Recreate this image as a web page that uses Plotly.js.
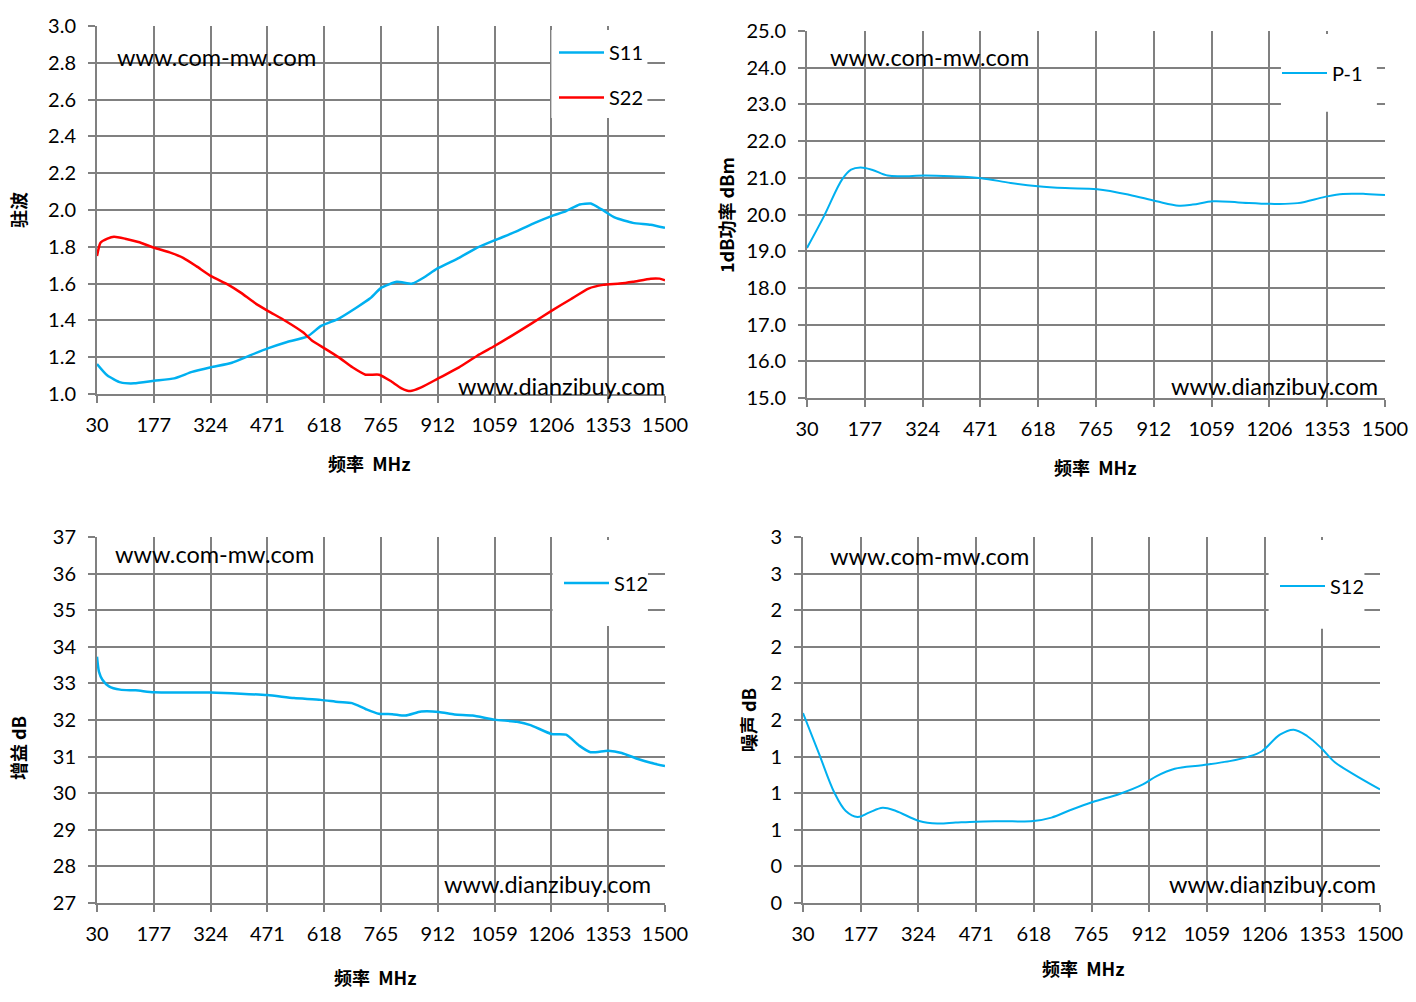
<!DOCTYPE html>
<html>
<head>
<meta charset="utf-8">
<script src="https://cdn.plot.ly/plotly-3.0.1.min.js"></script>
<style>
  html, body { margin: 0; padding: 0; background: #fff; }
  #chart { width: 1416px; height: 1002px; }
</style>
</head>
<body>
<div id="chart"></div>
<script>
// frequency ticks (MHz)
var freqTicks = [30, 177, 324, 471, 618, 765, 912, 1059, 1206, 1353, 1500];

// VSWR, top left
var s11Freq = [30, 57, 91, 126, 178, 230, 276, 325, 379, 426, 472, 518, 575, 610, 656, 702, 737, 766, 806, 846, 875, 910, 967, 1014, 1060, 1117, 1163, 1206, 1244, 1279, 1308, 1336, 1371, 1417, 1463, 1500];
var s11Vswr = [1.163, 1.10, 1.063, 1.058, 1.072, 1.085, 1.12, 1.145, 1.17, 1.21, 1.248, 1.28, 1.313, 1.37, 1.41, 1.47, 1.52, 1.578, 1.61, 1.60, 1.632, 1.681, 1.74, 1.795, 1.836, 1.885, 1.93, 1.967, 1.994, 2.03, 2.035, 2.003, 1.958, 1.93, 1.92, 1.903];
var s22Freq = [30, 39, 57, 74, 103, 137, 178, 218, 253, 287, 325, 368, 402, 437, 472, 518, 564, 587, 622, 656, 691, 725, 760, 789, 818, 841, 869, 910, 967, 1014, 1060, 1106, 1152, 1206, 1256, 1302, 1340, 1383, 1417, 1463, 1486, 1500];
var s22Vswr = [1.75, 1.822, 1.844, 1.855, 1.844, 1.826, 1.795, 1.77, 1.74, 1.695, 1.641, 1.596, 1.551, 1.497, 1.452, 1.397, 1.334, 1.289, 1.244, 1.199, 1.145, 1.105, 1.105, 1.072, 1.031, 1.016, 1.036, 1.081, 1.145, 1.208, 1.262, 1.32, 1.38, 1.452, 1.515, 1.573, 1.593, 1.60, 1.61, 1.627, 1.627, 1.618];

// P-1dB, top right
var p1Freq = [30, 73, 119, 142, 166, 195, 235, 270, 328, 397, 473, 548, 617, 687, 768, 849, 919, 976, 1011, 1063, 1127, 1208, 1278, 1347, 1393, 1451, 1500];
var p1Dbm = [19.09, 19.95, 20.95, 21.22, 21.28, 21.22, 21.06, 21.04, 21.06, 21.04, 20.99, 20.86, 20.77, 20.72, 20.69, 20.54, 20.36, 20.24, 20.27, 20.36, 20.33, 20.29, 20.31, 20.48, 20.56, 20.56, 20.53];

// gain, bottom left
var gainFreq = [30, 35, 44, 61, 90, 130, 177, 240, 324, 402, 471, 540, 609, 655, 690, 725, 759, 794, 828, 869, 915, 955, 1002, 1059, 1117, 1152, 1206, 1244, 1278, 1307, 1353, 1388, 1428, 1463, 1500];
var gainDb = [33.73, 33.32, 33.10, 32.92, 32.83, 32.81, 32.76, 32.75, 32.75, 32.72, 32.68, 32.60, 32.55, 32.49, 32.46, 32.30, 32.17, 32.16, 32.12, 32.23, 32.22, 32.15, 32.12, 32.01, 31.95, 31.86, 31.62, 31.60, 31.30, 31.12, 31.16, 31.10, 30.94, 30.83, 30.74];

// noise figure, bottom right
var nfFreq = [30, 70, 110, 139, 169, 198, 233, 267, 326, 372, 419, 471, 535, 617, 663, 710, 768, 838, 896, 931, 977, 1047, 1117, 1164, 1199, 1245, 1280, 1315, 1350, 1385, 1431, 1500];
var nfDb = [1.557, 1.231, 0.904, 0.754, 0.705, 0.741, 0.781, 0.754, 0.672, 0.651, 0.659, 0.667, 0.670, 0.672, 0.700, 0.760, 0.828, 0.896, 0.972, 1.040, 1.100, 1.130, 1.163, 1.198, 1.244, 1.380, 1.421, 1.367, 1.271, 1.154, 1.059, 0.931];
var nfTickVals = [0, 0.3, 0.6, 0.9, 1.2, 1.5, 1.8, 2.1, 2.4, 2.7, 3.0];
var nfTickText = ["0", "0", "1", "1", "1", "2", "2", "2", "2", "3", "3"];

var W = 1416, H = 1002;
var blue = "#00b0f0", red = "#ff0000", grid = "#808080";
var tickFont = { family: "Lato, sans-serif", size: 20, color: "#000" };
var markFont = { family: "Lato, sans-serif", size: 23.5, color: "#000" };
var cjkBold = { family: "Noto Sans CJK SC", size: 18, color: "#000", weight: "bold" };

function px(x) { return x / W; }
function py(y) { return 1 - y / H; }

function xAxis(l, r, anchor) {
  return {
    domain: [px(l), px(r)], anchor: anchor, range: [30, 1500],
    tickmode: "array", tickvals: freqTicks,
    showgrid: true, gridcolor: grid, gridwidth: 2,
    showline: true, linecolor: grid, linewidth: 2,
    ticks: "outside", ticklen: 7, tickwidth: 2, tickcolor: grid,
    ticklabelstandoff: 5,
    zeroline: false, tickfont: tickFont, fixedrange: true
  };
}
function yAxis(t, b, anchor, extra) {
  var a = {
    domain: [py(b), py(t)], anchor: anchor,
    showgrid: true, gridcolor: grid, gridwidth: 2,
    showline: true, linecolor: grid, linewidth: 2,
    ticks: "outside", ticklen: 7, tickwidth: 2, tickcolor: grid,
    ticklabelstandoff: 8,
    zeroline: false, tickfont: tickFont, fixedrange: true
  };
  for (var k in extra) a[k] = extra[k];
  return a;
}

var data = [
  { x: s11Freq, y: s11Vswr, name: "S11", type: "scatter", mode: "lines", xaxis: "x", yaxis: "y",
    line: { color: blue, width: 2.5, shape: "spline", smoothing: 0.5 }, legend: "legend", legendgroup: "a" },
  { x: s22Freq, y: s22Vswr, name: "S22", type: "scatter", mode: "lines", xaxis: "x", yaxis: "y",
    line: { color: red, width: 2.5, shape: "spline", smoothing: 0.5 }, legend: "legend", legendgroup: "b" },
  { x: p1Freq, y: p1Dbm, name: "P-1", type: "scatter", mode: "lines", xaxis: "x2", yaxis: "y2",
    line: { color: blue, width: 2, shape: "spline" }, legend: "legend2" },
  { x: gainFreq, y: gainDb, name: "S12", type: "scatter", mode: "lines", xaxis: "x3", yaxis: "y3",
    line: { color: blue, width: 2.5, shape: "spline", smoothing: 0.6 }, legend: "legend3" },
  { x: nfFreq, y: nfDb, name: "S12", type: "scatter", mode: "lines", xaxis: "x4", yaxis: "y4",
    line: { color: blue, width: 2, shape: "spline" }, legend: "legend4" }
];

function leg(x, y) {
  return { x: px(x), y: py(y), xanchor: "left", yanchor: "middle",
    bgcolor: "rgba(0,0,0,0)", borderwidth: 0, font: { family: "Lato, sans-serif", size: 20, color: "#000" },
    tracegroupgap: 16, itemwidth: 45 };
}

// white boxes behind the legends, hiding the gridlines as in the original
function box(xr, yr, x0, y0, x1, y1) {
  return { type: "rect", xref: xr + " domain", yref: yr + " domain", layer: "above",
    x0: x0, y0: y0, x1: x1, y1: y1, fillcolor: "#fff", line: { width: 0 } };
}

function note(text, x, y, xanchor, font, angle) {
  return { text: text, xref: "paper", yref: "paper", x: px(x), y: py(y),
    xanchor: xanchor, yanchor: "middle", showarrow: false, font: font, textangle: angle || 0 };
}

var layout = {
  width: W, height: H,
  margin: { l: 0, r: 0, t: 0, b: 0 },
  paper_bgcolor: "#fff", plot_bgcolor: "#fff",
  showlegend: true,
  xaxis: xAxis(97, 665, "y"),
  yaxis: yAxis(26, 394, "x", { range: [1, 3], dtick: 0.2, tick0: 1, tickformat: ".1f" }),
  xaxis2: xAxis(807, 1385, "y2"),
  yaxis2: yAxis(31, 398, "x2", { range: [15, 25], dtick: 1, tick0: 15, tickformat: ".1f" }),
  xaxis3: xAxis(97, 665, "y3"),
  yaxis3: yAxis(537, 903, "x3", { range: [27, 37], dtick: 1, tick0: 27 }),
  xaxis4: xAxis(803, 1380, "y4"),
  yaxis4: yAxis(537, 903, "x4", { range: [0, 3], tickmode: "array", tickvals: nfTickVals, ticktext: nfTickText }),
  legend: leg(554, 75),
  legend2: leg(1277, 73),
  legend3: leg(559, 583),
  legend4: leg(1275, 586),
  shapes: [
    box("x", "y", 0.800, 0.750, 0.969, 0.989),
    box("x2", "y2", 0.820, 0.780, 0.986, 0.992),
    box("x3", "y3", 0.802, 0.757, 0.970, 0.992),
    box("x4", "y4", 0.807, 0.749, 0.973, 0.992)
  ],
  annotations: [
    note("www.com-mw.com", 115, 57, "left", markFont),
    note("www.dianzibuy.com", 667, 386, "right", markFont),
    note("www.com-mw.com", 828, 57, "left", markFont),
    note("www.dianzibuy.com", 1380, 386, "right", markFont),
    note("www.com-mw.com", 113, 554, "left", markFont),
    note("www.dianzibuy.com", 653, 884, "right", markFont),
    note("www.com-mw.com", 828, 556, "left", markFont),
    note("www.dianzibuy.com", 1378, 884, "right", markFont),
    note("频率  MHz", 369, 463, "center", cjkBold),
    note("频率  MHz", 1095, 467, "center", cjkBold),
    note("频率  MHz", 375, 977, "center", cjkBold),
    note("频率  MHz", 1083, 968, "center", cjkBold),
    note("驻波", 18, 210, "center", cjkBold, -90),
    note("1dB功率 dBm", 726, 215, "center", cjkBold, -90),
    note("增益 dB", 18, 748, "center", cjkBold, -90),
    note("噪声 dB", 748, 720, "center", cjkBold, -90)
  ]
};

Plotly.newPlot("chart", data, layout, { staticPlot: true, displayModeBar: false });
</script>
</body>
</html>
